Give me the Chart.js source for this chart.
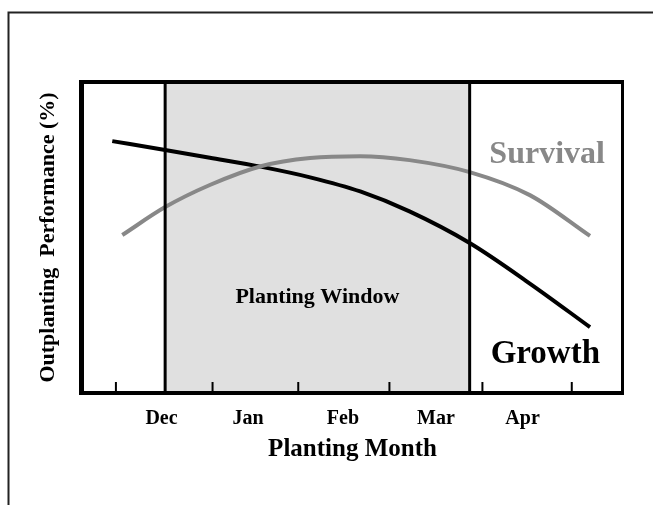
<!DOCTYPE html>
<html>
<head>
<meta charset="utf-8">
<script src="https://cdn.jsdelivr.net/npm/chart.js@4/dist/chart.umd.min.js"></script>
<style>
  body { margin: 0; background: #fff; }
  canvas { display: block; }
</style>
</head>
<body>
<canvas id="myChart" width="653" height="505"></canvas>
<script>
const ctx = document.getElementById('myChart').getContext('2d');

// month labels sit between tick marks; ticks mark month boundaries
const monthLabels = ['Dec', 'Jan', 'Feb', 'Mar', 'Apr'];
const monthCenters = [0.5, 1.45, 2.49, 3.51, 4.46];
const tickMarks = [0, 1.06, 2, 3, 4.02, 5];

const growthX = [-0.04, 0.54, 1.03, 1.60, 2.13, 2.68, 3.22, 3.88, 4.54, 5.20];
const growthY = [81.4, 78.5, 76.0, 73.0, 69.6, 65.0, 58.5, 48.2, 35.0, 20.8];

const survivalX = [0.07, 0.54, 1.03, 1.60, 2.13, 2.68, 3.22, 3.88, 4.54, 5.20];
const survivalY = [50.8, 59.9, 67.1, 73.3, 75.9, 76.5, 75.2, 71.3, 63.8, 50.5];

const windowStart = 0.54;
const windowEnd = 3.88;

const serif = "'Liberation Serif', 'Times New Roman', serif";

const toPoints = (xs, ys) => xs.map((x, i) => ({ x, y: ys[i] }));

const decorPlugin = {
  id: 'decor',
  beforeDraw(chart) {
    const c = chart.ctx;
    const { top, bottom } = chart.chartArea;
    const xs = chart.scales.x;
    // outer frame
    c.save();
    c.strokeStyle = '#222';
    c.lineWidth = 2;
    c.beginPath();
    c.moveTo(8.5, 505);
    c.lineTo(8.5, 12.5);
    c.lineTo(653, 12.5);
    c.stroke();
    // planting window shading
    const x0 = xs.getPixelForValue(windowStart);
    const x1 = xs.getPixelForValue(windowEnd);
    c.fillStyle = '#e0e0e0';
    c.fillRect(x0, top, x1 - x0, bottom - top);
    c.restore();
  },
  afterDatasetsDraw(chart) {
    const c = chart.ctx;
    const { left, right, top, bottom } = chart.chartArea;
    const xs = chart.scales.x;
    const ys = chart.scales.y;
    c.save();
    // window boundaries
    c.strokeStyle = '#000';
    c.lineWidth = 3;
    [windowStart, windowEnd].forEach(v => {
      const px = xs.getPixelForValue(v);
      c.beginPath();
      c.moveTo(px, top);
      c.lineTo(px, bottom);
      c.stroke();
    });
    // inner tick marks
    c.lineWidth = 2;
    tickMarks.forEach(v => {
      const px = xs.getPixelForValue(v);
      c.beginPath();
      c.moveTo(px, bottom);
      c.lineTo(px, bottom - 9);
      c.stroke();
    });
    // frame box
    c.fillStyle = '#000';
    c.fillRect(left - 5, top - 4, right - left + 8, 4);
    c.fillRect(left - 5, bottom, right - left + 8, 4);
    c.fillRect(left - 5, top - 4, 5, bottom - top + 8);
    c.fillRect(right, top - 4, 3, bottom - top + 8);
    // labels
    c.textAlign = 'center';
    c.textBaseline = 'middle';
    c.font = 'bold 32px ' + serif;
    c.fillStyle = '#888';
    c.fillText('Survival', xs.getPixelForValue(4.73), ys.getPixelForValue(77.0));
    c.fillStyle = '#000';
    c.font = 'bold 33px ' + serif;
    c.fillText('Growth', xs.getPixelForValue(4.71), ys.getPixelForValue(12.0));
    c.font = 'bold 22px ' + serif;
    c.fillText('Planting Window', xs.getPixelForValue(2.21), ys.getPixelForValue(30.6));
    c.restore();
  }
};

new Chart(ctx, {
  type: 'line',
  data: {
    datasets: [{
      label: 'Survival',
      data: toPoints(survivalX, survivalY),
      borderColor: '#888',
      borderWidth: 4,
      pointRadius: 0,
      cubicInterpolationMode: 'monotone',
      borderCapStyle: 'butt'
    }, {
      label: 'Growth',
      data: toPoints(growthX, growthY),
      borderColor: '#000',
      borderWidth: 4,
      pointRadius: 0,
      cubicInterpolationMode: 'monotone',
      borderCapStyle: 'butt'
    }]
  },
  options: {
    responsive: false,
    animation: false,
    layout: { padding: { top: 84, right: 32, left: 0, bottom: 0 } },
    plugins: { legend: { display: false }, tooltip: { enabled: false } },
    scales: {
      x: {
        type: 'linear',
        min: -0.35,
        max: 5.54,
        afterFit(scale) { scale.height = 114; },
        afterBuildTicks(scale) { scale.ticks = monthCenters.map(v => ({ value: v })); },
        ticks: {
          autoSkip: false,
          maxRotation: 0,
          padding: 16,
          color: '#000',
          font: { family: serif, size: 20, weight: 'bold' },
          callback: (v, i) => monthLabels[i]
        },
        grid: { display: false, drawTicks: false },
        border: { display: false },
        title: {
          display: true,
          text: 'Planting Month',
          color: '#000',
          font: { family: serif, size: 25, weight: 'bold' },
          padding: { top: 0, bottom: 40 }
        }
      },
      y: {
        min: 0,
        max: 100,
        afterFit(scale) { scale.width = 84; },
        ticks: { display: false },
        grid: { display: false, drawTicks: false },
        border: { display: false },
        title: {
          display: true,
          text: 'Outplanting  Performance (%)',
          color: '#000',
          font: { family: serif, size: 22, weight: 'bold' },
          padding: { top: 35, bottom: 0 }
        }
      }
    }
  },
  plugins: [decorPlugin]
});
</script>
</body>
</html>
